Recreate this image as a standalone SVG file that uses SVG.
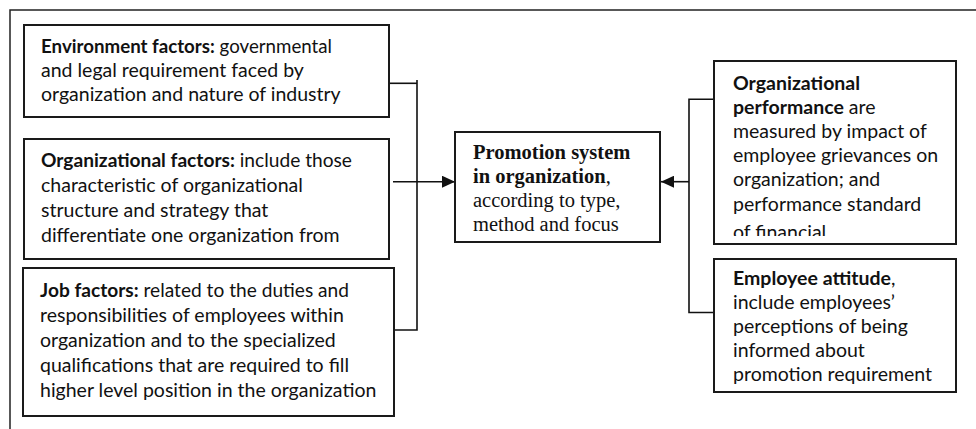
<svg xmlns="http://www.w3.org/2000/svg" width="976" height="429" viewBox="0 0 976 429">
<style>
.frame{fill:none;stroke:#222;stroke-width:1.5}
.box{fill:#fff;stroke:#1a1a1a;stroke-width:2}
.c{fill:none;stroke:#111;stroke-width:1.6}
.t{font-family:Lato,"Liberation Sans",sans-serif;font-size:19.5px;fill:#111}
.s{font-family:"Liberation Serif","Times New Roman",serif;font-size:20.5px;fill:#111}
.b{font-weight:bold}
</style>
<defs>
<marker id="ah" markerWidth="14" markerHeight="12" refX="13" refY="6" orient="auto" markerUnits="userSpaceOnUse">
<path d="M0,0 L13,6 L0,12 Z" fill="#111"/>
</marker>
<clipPath id="clipPerf"><rect x="714" y="61" width="242" height="175"/></clipPath>
</defs>
<rect class="frame" x="10" y="10" width="990" height="440"/>
<g id="connectors">
<polyline class="c" points="389,83.3 417,83.3"/>
<polyline class="c" points="417,80 417,330 391,330"/>
<line class="c" x1="393" y1="181.7" x2="455" y2="181.7" marker-end="url(#ah)"/>
<polyline class="c" points="714,99.3 689,99.3 689,312.5 714,312.5"/>
<line class="c" x1="689" y1="181.7" x2="661" y2="181.7" marker-end="url(#ah)"/>
</g>
<g id="env">
<rect class="box" x="24" y="25" width="365" height="92"/>
<text class="t" x="41" y="53" textLength="291" lengthAdjust="spacingAndGlyphs"><tspan class="b">Environment factors:</tspan> governmental</text>
<text class="t" x="41" y="77">and legal requirement faced by</text>
<text class="t" x="41" y="101">organization and nature of industry</text>
</g>
<g id="org">
<rect class="box" x="24" y="139" width="365" height="120"/>
<text class="t" x="41" y="167" textLength="311" lengthAdjust="spacingAndGlyphs"><tspan class="b">Organizational factors:</tspan> include those</text>
<text class="t" x="41" y="192">characteristic of organizational</text>
<text class="t" x="41" y="217">structure and strategy that</text>
<text class="t" x="41" y="242">differentiate one organization from</text>
</g>
<g id="job">
<rect class="box" x="23" y="268" width="371" height="148"/>
<text class="t" x="40" y="297" textLength="309" lengthAdjust="spacingAndGlyphs"><tspan class="b">Job factors:</tspan> related to the duties and</text>
<text class="t" x="40" y="322">responsibilities of employees within</text>
<text class="t" x="40" y="347">organization and to the specialized</text>
<text class="t" x="40" y="372">qualifications that are required to fill</text>
<text class="t" x="40" y="397">higher level position in the organization</text>
</g>
<g id="promo">
<rect class="box" x="455" y="132" width="205" height="110"/>
<text class="s b" x="473" y="159">Promotion system</text>
<text class="s" x="473" y="183"><tspan class="b">in organization</tspan>,</text>
<text class="s" x="473" y="207">according to type,</text>
<text class="s" x="473" y="231">method and focus</text>
</g>
<g id="perf">
<rect class="box" x="714" y="61" width="242" height="183"/>
<g clip-path="url(#clipPerf)">
<text class="t b" x="733" y="90">Organizational</text>
<text class="t" x="733" y="114"><tspan class="b">performance</tspan> are</text>
<text class="t" x="733" y="138">measured by impact of</text>
<text class="t" x="733" y="162">employee grievances on</text>
<text class="t" x="733" y="186">organization; and</text>
<text class="t" x="733" y="211">performance standard</text>
<text class="t" x="733" y="239">of financial</text>
</g>
</g>
<g id="att">
<rect class="box" x="714" y="259" width="242" height="133"/>
<text class="t" x="733" y="285"><tspan class="b">Employee attitude</tspan>,</text>
<text class="t" x="733" y="309">include employees’</text>
<text class="t" x="733" y="333">perceptions of being</text>
<text class="t" x="733" y="357">informed about</text>
<text class="t" x="733" y="381">promotion requirement</text>
</g>
</svg>
